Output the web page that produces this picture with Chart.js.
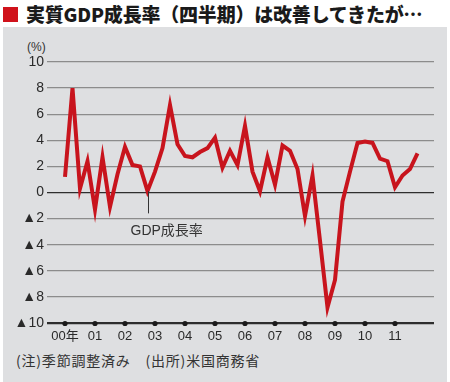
<!DOCTYPE html>
<html><head><meta charset="utf-8">
<script src="https://cdn.jsdelivr.net/npm/chart.js@4"></script>
<style>
body{margin:0;width:450px;height:382px;background:#fff;overflow:hidden;position:relative;font-family:'Noto Sans CJK JP',sans-serif}
#panel{position:absolute;left:3px;top:27px;width:444px;height:355px;background:#dedfe1}
#sq{position:absolute;left:3px;top:7px;width:15px;height:15px;background:#d0121b}
#title{position:absolute;left:26px;top:0px;font-size:19px;font-weight:900;line-height:28px;color:#1a1a1a;white-space:nowrap;letter-spacing:-0.2px}
#unit{position:absolute;left:27px;top:40px;font-size:12px;color:#333;font-family:'Liberation Sans','Noto Sans CJK JP',sans-serif}
#note{position:absolute;left:16px;top:350px;font-size:14px;letter-spacing:0.8px;color:#333;white-space:nowrap}
canvas{position:absolute;left:0;top:0}
</style></head>
<body>
<div id="panel"></div>
<div id="sq"></div>
<div id="title">実質GDP成長率（四半期）は改善してきたが…</div>
<div id="unit">(%)</div>
<div id="note">(注)季節調整済み　(出所)米国商務省</div>
<canvas id="c" width="450" height="382"></canvas>
<script>
// Quarterly real GDP growth (annualized, %), 2000Q1 .. 2011Q4
const growth = [
  1.2, 8.0, 0.3, 2.4,
  -1.3, 2.7, -1.1, 1.4,
  3.5, 2.1, 2.0, 0.1,
  1.6, 3.4, 6.7, 3.7,
  2.8, 2.7, 3.1, 3.4,
  4.2, 1.9, 3.2, 2.1,
  5.1, 1.6, 0.1, 2.7,
  0.6, 3.6, 3.2, 1.8,
  -1.8, 1.3, -3.7, -8.8,
  -6.7, -0.7, 1.6, 3.8,
  3.9, 3.8, 2.6, 2.4,
  0.4, 1.3, 1.8, 3.0
];
const yearLabels = ['00年','01','02','03','04','05','06','07','08','09','10','11'];
const yearTickPos = [0,4,8,12,16,20,24,28,32,36,40,44];
const yTicks = [10,8,6,4,2,0,-2,-4,-6,-8,-10];
const annotIndex = 11;

const numFont = "'Liberation Sans','Noto Sans CJK JP',sans-serif";

const extras = {
  id:'extras',
  afterDraw(chart){
    const {ctx, scales:{x,y}, chartArea} = chart;
    ctx.save();
    const yb = Math.round(y.getPixelForValue(-10)) + 0.5;
    ctx.strokeStyle = '#2e2e2e'; ctx.lineWidth = 1.3;
    ctx.beginPath(); ctx.moveTo(chartArea.left, yb); ctx.lineTo(chartArea.right, yb); ctx.stroke();
    ctx.fillStyle = '#1a1a1a';
    yearTickPos.forEach(p=>{
      ctx.beginPath();
      ctx.arc(x.getPixelForValue(p), yb, 2.6, 0, Math.PI*2);
      ctx.fill();
    });
    const ax = x.getPixelForValue(annotIndex);
    ctx.strokeStyle = '#333'; ctx.lineWidth = 1;
    ctx.beginPath();
    ctx.moveTo(Math.round(ax)+0.5, y.getPixelForValue(growth[annotIndex]));
    ctx.lineTo(Math.round(ax)+0.5, y.getPixelForValue(-1.6));
    ctx.stroke();
    ctx.fillStyle = '#333';
    ctx.font = "14px 'Liberation Sans','Noto Sans CJK JP',sans-serif";
    ctx.textBaseline = 'middle';
    ctx.textAlign = 'left';
    ctx.fillText('GDP成長率', ax - 17, y.getPixelForValue(-2.95));
    ctx.restore();
  }
};

new Chart(document.getElementById('c'), {
  type:'line',
  data:{datasets:[{
    data: growth.map((v,i)=>({x:i,y:v})),
    borderColor:'#c8141d',
    borderWidth:4,
    pointRadius:0,
    tension:0,
    borderJoinStyle:'miter'
  }]},
  options:{
    responsive:false,
    animation:false,
    devicePixelRatio:1,
    layout:{padding:{top:62,left:0,right:16,bottom:0}},
    plugins:{legend:{display:false},tooltip:{enabled:false}},
    scales:{
      x:{
        type:'linear', min:-2.4, max:49.2,
        afterBuildTicks(s){ s.ticks = yearTickPos.map(v=>({value:v})); },
        afterFit(s){ s.height = 59; },
        grid:{display:false, drawTicks:false}, border:{display:false},
        ticks:{autoSkip:false, maxRotation:0, padding:6, color:'#2a2a2a',
          font:{family:numFont,size:13},
          callback:(v)=>{const k=yearTickPos.indexOf(v);return k>=0?yearLabels[k]:'';}}
      },
      y:{
        min:-10, max:10,
        afterBuildTicks(s){ s.ticks = yTicks.map(v=>({value:v})); },
        afterFit(s){ s.width = 47; },
        border:{display:false},
        grid:{drawTicks:false, lineWidth:1.3,
          color:(c)=> (c.tick && (c.tick.value===0||c.tick.value===-10)) ? '#2e2e2e' : '#8c8c8c'},
        ticks:{padding:3, color:'#2a2a2a', font:{family:numFont,size:14},
          callback:(v)=> v<0 ? '▲'+(-v) : String(v)}
      }
    }
  },
  plugins:[extras]
});
</script>
</body></html>
